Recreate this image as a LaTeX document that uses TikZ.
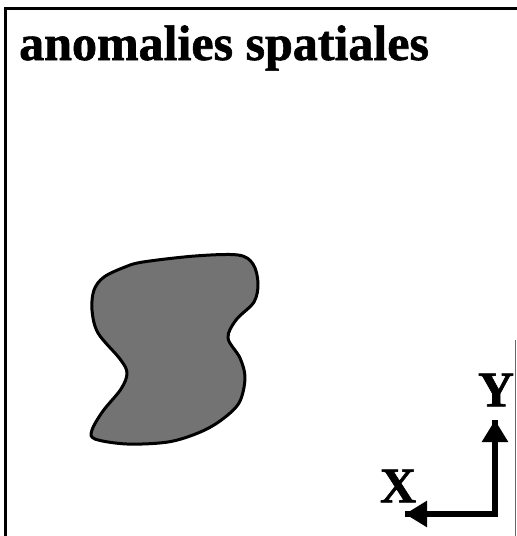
\documentclass[tikz,border=0pt]{standalone}
\usepackage{fontspec}
\setmainfont{Liberation Serif}
\newfontfamily\heavyserif{Liberation Serif}[BoldFeatures={FakeBold=1.2}]
\usetikzlibrary{arrows.meta}
\tikzset{
  frameline/.style={line width=3pt, black},
  blobstyle/.style={draw=black, line width=3pt, fill=black!55, line join=round},
  axisline/.style={line width=6pt, black, line join=miter},
  axtip/.style={-{Triangle[width=25pt,length=22pt]}},
  bigtext/.style={font=\fontsize{50}{60}\selectfont\heavyserif\bfseries, inner sep=0pt},
}
\begin{document}
\begin{tikzpicture}[x=1pt,y=-1pt]
\useasboundingbox (0,0) rectangle (517,536);
% frame
\coordinate (tl) at (5,8);
\coordinate (tr) at (517,8);
\coordinate (bl) at (5,536);
\draw[frameline] (tr) -- (tl) -- (bl);
\draw[black!60, line width=1pt] (515.5,340) -- (515.5,536);
% title
\node[bigtext, anchor=base west] (title) at (19,60) {anomalies spatiales};
% anomaly blob
\draw[blobstyle] plot[smooth cycle, tension=0.55] coordinates {
  (143,262) (195,256) (238,255) (253,264) (258,283) (254,302)
  (236,320) (228,338) (240,358) (245,378) (239,403) (220,421)
  (198,433) (168,442) (127,444) (95,439) (92,430) (103,411)
  (121,389) (127,373) (120,359) (98,333) (92,310) (94,290)
  (104,277) (125,267)};
% axes
\coordinate (O) at (495,514);
\coordinate (xend) at (405,514);
\coordinate (yend) at (495,420);
\draw[axisline] (xend) -- (O) -- (yend);
\draw[axisline, axtip] (O) -- (xend);
\draw[axisline, axtip] (O) -- (yend);
\node[bigtext] (ylab) at (496,390) {Y};
\node[bigtext] (xlab) at (398,486) {X};
\end{tikzpicture}
\end{document}
